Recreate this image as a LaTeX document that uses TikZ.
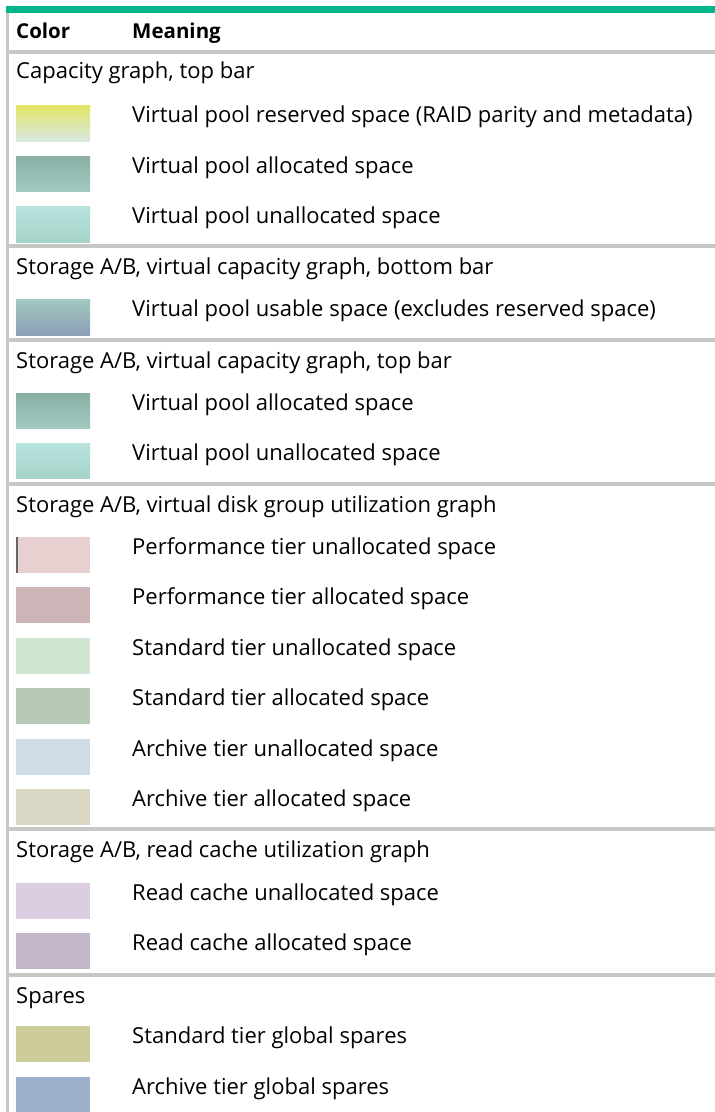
\documentclass[tikz,border=0pt]{standalone}
\usepackage{fontspec}
\setmainfont{Open Sans}
\definecolor{hpe green}{RGB}{1,180,138}
\definecolor{rule gray}{RGB}{198,200,200}
\definecolor{pool yellow}{RGB}{228,228,100}
\definecolor{pool pale}{RGB}{214,232,225}
\definecolor{pool dark}{RGB}{138,175,165}
\definecolor{pool mid}{RGB}{162,201,193}
\definecolor{pool light}{RGB}{184,227,221}
\definecolor{pool light2}{RGB}{165,212,202}
\definecolor{pool blue}{RGB}{140,158,181}
\definecolor{perf light}{RGB}{230,208,208}
\definecolor{perf dark}{RGB}{203,181,183}
\definecolor{std light}{RGB}{208,229,210}
\definecolor{std dark}{RGB}{182,201,183}
\definecolor{arch light}{RGB}{207,220,229}
\definecolor{arch dark}{RGB}{217,215,196}
\definecolor{cache light}{RGB}{219,206,227}
\definecolor{cache dark}{RGB}{193,182,202}
\definecolor{spare std}{RGB}{203,204,152}
\definecolor{spare arch}{RGB}{155,177,204}
\tikzset{
  title/.style={anchor=base west, inner sep=0pt},
  item/.style={anchor=base west, inner sep=0pt}
}

\begin{document}
\begin{tikzpicture}[x=1pt, y=-1pt, font=\fontsize{22}{26}\selectfont]
			\useasboundingbox (0,0) rectangle (715,1112);
			% top bar and left rule
			\fill[hpe green] (6,6) rectangle (715,13);
			\fill[rule gray] (6,13) rectangle (9,1112);
			% separators
			\foreach \y in {50,244,338,482,827,973}
				\fill[rule gray] (9,\y) rectangle (715,\y+4);
			% header
			\node[title, font=\fontsize{20.5}{25}\selectfont\bfseries] (color) at (16,38) {Color};
			\node[title, font=\fontsize{20.5}{25}\selectfont\bfseries] (meaning) at (132,38) {Meaning};
			% section titles
			\node[title] (capacity) at (16,78) {Capacity graph, top bar};
			\node[title] (bottombar) at (16,274) {Storage A/B, virtual capacity graph, bottom bar};
			\node[title] (topbar) at (16,368) {Storage A/B, virtual capacity graph, top bar};
			\node[title] (diskgroup) at (16,512) {Storage A/B, virtual disk group utilization graph};
			\node[title] (readcache) at (16,857) {Storage A/B, read cache utilization graph};
			\node[title] (spares) at (16,1003) {Spares};
			% shaded swatches
			\shade[top color=pool yellow, bottom color=pool pale] (16,105) rectangle (90,141);
			\shade[top color=pool dark, bottom color=pool mid] (16,156) rectangle (90,191);
			\shade[top color=pool light, bottom color=pool light2] (16,206) rectangle (90,242);
			\shade[top color=pool mid, bottom color=pool blue] (16,299) rectangle (90,335);
			\shade[top color=pool dark, bottom color=pool mid] (16,393) rectangle (90,428);
			\shade[top color=pool light, bottom color=pool light2] (16,443) rectangle (90,478);
			% flat swatches
			\foreach \y/\c in {537/perf light, 587/perf dark, 638/std light, 688/std dark,
				739/arch light, 789/arch dark, 883/cache light, 933/cache dark,
				1026/spare std, 1077/spare arch}
				\fill[\c] (16,\y) rectangle (90,\y+36);
			\fill[black!60] (16,537) rectangle (17.5,573);
			% meanings
			\node[item] (reserved) at (132,122) {Virtual pool reserved space (RAID parity and metadata)};
			\node[item] (allocated) at (132,173) {Virtual pool allocated space};
			\node[item] (unallocated) at (132,223) {Virtual pool unallocated space};
			\node[item] (usable) at (132,316) {Virtual pool usable space (excludes reserved space)};
			\node[item] (allocatedB) at (132,410) {Virtual pool allocated space};
			\node[item] (unallocatedB) at (132,460) {Virtual pool unallocated space};
			\node[item] (perfU) at (132,554) {Performance tier unallocated space};
			\node[item] (perfA) at (132,604) {Performance tier allocated space};
			\node[item] (stdU) at (132,655) {Standard tier unallocated space};
			\node[item] (stdA) at (132,705) {Standard tier allocated space};
			\node[item] (archU) at (132,756) {Archive tier unallocated space};
			\node[item] (archA) at (132,806) {Archive tier allocated space};
			\node[item] (cacheU) at (132,900) {Read cache unallocated space};
			\node[item] (cacheA) at (132,950) {Read cache allocated space};
			\node[item] (spareS) at (132,1043) {Standard tier global spares};
			\node[item] (spareA) at (132,1094) {Archive tier global spares};
		\end{tikzpicture}
\end{document}
